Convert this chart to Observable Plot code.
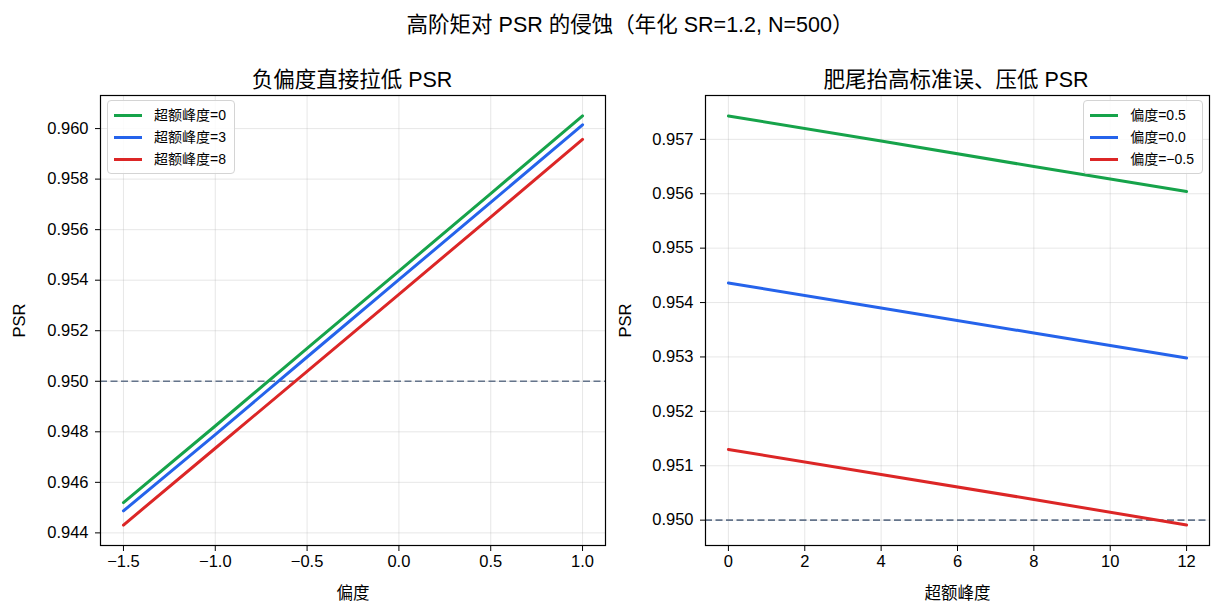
<!DOCTYPE html>
<html>
<head>
<meta charset="utf-8">
<script src="https://cdn.jsdelivr.net/npm/d3@7"></script>
<script src="https://cdn.jsdelivr.net/npm/@observablehq/plot@0.6"></script>
<style>
  body { margin: 0; background: #fff; }
  #fig { position: relative; width: 1221px; height: 614px; background: #fff;
         font-family: "Liberation Sans", "Noto Sans CJK SC", sans-serif; color: #000; overflow: hidden; }
  #fig svg { position: absolute; top: 0; }
  .title { position: absolute; transform: translate(-50%, -50%); white-space: nowrap; }
  .legend { position: absolute; background: rgba(255,255,255,0.85); border: 1px solid #d4d4d4;
            border-radius: 4px; padding: 3px 8px 3px 6px; font-size: 14px; line-height: 22px; }
  .legend .row { display: flex; align-items: center; white-space: nowrap; }
  .legend .sw { width: 28px; height: 3px; margin-right: 12px; }
</style>
</head>
<body>
<div id="fig"></div>
<script>
// PSR versus skewness, one series per excess-kurtosis level
const skewGrid = [-1.5, -1.0, -0.5, 0.0, 0.5, 1.0];
const psrKurt0 = [0.94520, 0.94823, 0.95130, 0.95436, 0.95743, 0.96050];
const psrKurt3 = [0.94487, 0.94789, 0.95096, 0.95402, 0.95708, 0.96015];
const psrKurt8 = [0.94431, 0.94735, 0.95039, 0.95344, 0.95650, 0.95957];
const kurtNames = ["超额峰度=0", "超额峰度=3", "超额峰度=8"];

// PSR versus excess kurtosis, one series per skewness level
const kurtGrid = [0, 4, 8, 12];
const psrSkewPos = [0.95743, 0.95697, 0.95650, 0.95604];
const psrSkewZero = [0.95436, 0.95390, 0.95344, 0.95298];
const psrSkewNeg = [0.95130, 0.95084, 0.95038, 0.94991];
const skewNames = ["偏度=0.5", "偏度=0.0", "偏度=−0.5"];

const threshold = 0.95;
const leftXTicks = [-1.5, -1.0, -0.5, 0.0, 0.5, 1.0];
const leftYTicks = [0.944, 0.946, 0.948, 0.950, 0.952, 0.954, 0.956, 0.958, 0.960];
const rightXTicks = [0, 2, 4, 6, 8, 10, 12];
const rightYTicks = [0.950, 0.951, 0.952, 0.953, 0.954, 0.955, 0.956, 0.957];

const seriesColors = ["#16a34a", "#2563eb", "#dc2626"];
const fig = document.getElementById("fig");

const minus = v => (v < 0 ? "\u2212" : "") + Math.abs(v);
const fmt1 = v => (v < 0 ? "\u2212" : "") + Math.abs(v).toFixed(1);
const fmt3 = v => v.toFixed(3);

// 5% padding on each side, like the default autoscale margins
function padded(values) {
  const [a, b] = d3.extent(values);
  const m = (b - a) * 0.05;
  return [a - m, b + m];
}

function toRows(xs, seriesList, names, xKey) {
  const rows = [];
  seriesList.forEach((ys, i) => ys.forEach((y, j) => rows.push({ [xKey]: xs[j], psr: y, series: names[i] })));
  return rows;
}

function panel({ rows, xKey, xTicks, yTicks, xFmt, xLabel, width, left, marginLeft, marginRight, labelOffsetY }) {
  const svg = Plot.plot({
    width, height: 614,
    marginTop: 95, marginBottom: 69, marginLeft, marginRight,
    style: { fontFamily: '"Liberation Sans", "Noto Sans CJK SC", sans-serif', fontSize: "16.5px", color: "#000", background: "transparent" },
    x: { domain: padded(rows.map(d => d[xKey])) },
    y: { domain: padded(rows.map(d => d.psr)) },
    color: { domain: [...new Set(rows.map(d => d.series))], range: seriesColors },
    marks: [
      Plot.gridX(xTicks, { stroke: "#b0b0b0", strokeOpacity: 0.3, strokeWidth: 1 }),
      Plot.gridY(yTicks, { stroke: "#b0b0b0", strokeOpacity: 0.3, strokeWidth: 1 }),
      Plot.ruleY([threshold], { stroke: "#64748b", strokeWidth: 1.6, strokeDasharray: "7,3.5" }),
      Plot.line(rows, { x: xKey, y: "psr", z: "series", stroke: "series", strokeWidth: 3 }),
      Plot.axisX(xTicks, { tickFormat: xFmt, tickSize: 6, tickPadding: 4, label: xLabel,
                           labelAnchor: "center", labelArrow: "none", labelOffset: 53 }),
      Plot.axisY(yTicks, { tickFormat: fmt3, tickSize: 5, tickPadding: 7, label: "PSR",
                           labelAnchor: "center", labelArrow: "none", labelOffset: labelOffsetY }),
      Plot.frame({ stroke: "#000", strokeWidth: 1.2 })
    ]
  });
  svg.style.left = left + "px";
  fig.appendChild(svg);
}

panel({
  rows: toRows(skewGrid, [psrKurt0, psrKurt3, psrKurt8], kurtNames, "skew"),
  xKey: "skew", xTicks: leftXTicks, yTicks: leftYTicks, xFmt: fmt1, xLabel: "偏度",
  width: 620, left: 0, marginLeft: 100, marginRight: 15, labelOffsetY: 87
});
panel({
  rows: toRows(kurtGrid, [psrSkewPos, psrSkewZero, psrSkewNeg], skewNames, "kurt"),
  xKey: "kurt", xTicks: rightXTicks, yTicks: rightYTicks, xFmt: minus, xLabel: "超额峰度",
  width: 621, left: 600, marginLeft: 105, marginRight: 12, labelOffsetY: 86
});

// Titles
function addTitle(text, x, y, size) {
  const el = document.createElement("div");
  el.className = "title";
  el.textContent = text;
  el.style.left = x + "px";
  el.style.top = y + "px";
  el.style.fontSize = size + "px";
  fig.appendChild(el);
}
addTitle("高阶矩对 PSR 的侵蚀（年化 SR=1.2, N=500）", 630, 22, 21.5);
addTitle("负偏度直接拉低 PSR", 352, 77, 21.5);
addTitle("肥尾抬高标准误、压低 PSR", 956, 77, 21.5);

// Legends
function addLegend(names, pos) {
  const box = document.createElement("div");
  box.className = "legend";
  Object.entries(pos).forEach(([k, v]) => box.style[k] = v + "px");
  names.forEach((n, i) => {
    const row = document.createElement("div");
    row.className = "row";
    const sw = document.createElement("span");
    sw.className = "sw";
    sw.style.background = seriesColors[i];
    const label = document.createElement("span");
    label.textContent = n;
    row.appendChild(sw);
    row.appendChild(label);
    box.appendChild(row);
  });
  fig.appendChild(box);
}
addLegend(kurtNames, { left: 107, top: 100 });
addLegend(skewNames, { right: 1221 - 1203, top: 100 });
</script>
</body>
</html>
